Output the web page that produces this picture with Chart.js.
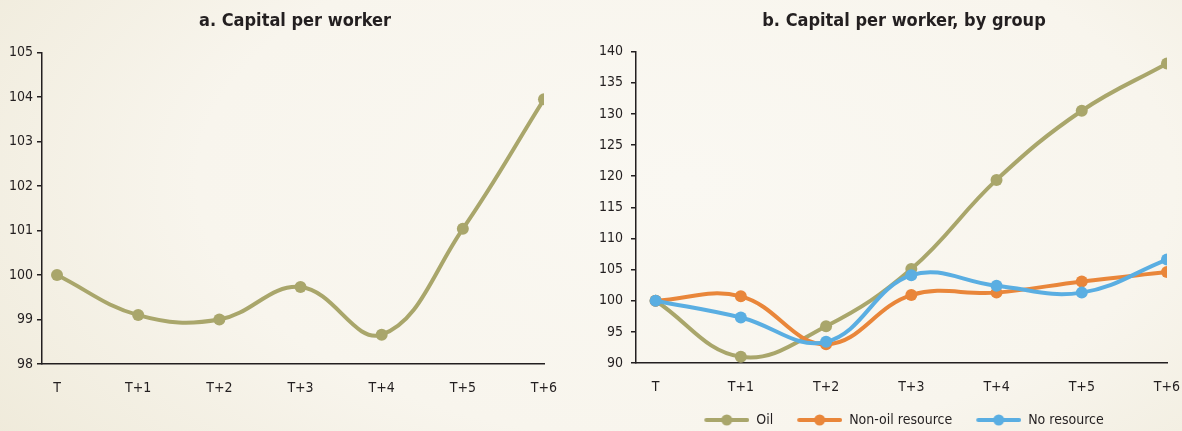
<!DOCTYPE html>
<html><head><meta charset="utf-8">
<script src="https://cdn.jsdelivr.net/npm/chart.js@4.4.1/dist/chart.umd.min.js"></script>
<style>
html,body{margin:0;padding:0;width:1182px;height:431px;overflow:hidden;}
body{background: radial-gradient(ellipse 75% 110% at 58% 42%, #faf8f2 0%, #f8f5ed 55%, #eee9d8 100%);}
#wa{position:absolute;left:0;top:0;width:590px;height:431px;}
#wb{position:absolute;left:590px;top:0;width:592px;height:431px;}
</style></head><body>
<div id="wa"><canvas id="ca"></canvas></div>
<div id="wb"><canvas id="cb"></canvas></div>
<script>
// ---- data ----
const periods = ['T', 'T+1', 'T+2', 'T+3', 'T+4', 'T+5', 'T+6'];
const capitalPerWorker = [100.0, 99.1, 99.0, 99.73, 98.66, 101.04, 103.95];
const oil = [100.0, 91.0, 95.9, 105.1, 119.4, 130.5, 138.1];
const nonOilResource = [100.0, 100.7, 93.0, 100.9, 101.3, 103.1, 104.6];
const noResource = [100.0, 97.3, 93.4, 104.1, 102.4, 101.3, 106.6];
const yTicksA = [98, 99, 100, 101, 102, 103, 104, 105];
const yTicksB = [90, 95, 100, 105, 110, 115, 120, 125, 130, 135, 140];
const titleA = 'a. Capital per worker';
const titleB = 'b. Capital per worker, by group';
const seriesNames = ['Oil', 'Non-oil resource', 'No resource'];

// ---- styles ----
const FONT = '"DejaVu Sans Condensed", "Roboto", sans-serif';
const INK = '#231f20';
const C_OIL = '#a9a66b', C_NON = '#e9863a', C_NO = '#5aaee2';
Chart.defaults.font.family = FONT;
Chart.defaults.color = INK;
Chart.defaults.animation = false;

// moves title / legend boxes after layout (so the plot area is unaffected)
const boxShift = {
  id: 'boxShift',
  afterLayout(chart, args, opts) {
    for (const key of ['titleBlock', 'legend']) {
      const b = chart[key], o = opts[key];
      if (!b || !o) continue;
      if (o.left != null) b.left = o.left;
      if (o.right != null) b.right = o.right;
      b.width = b.right - b.left;
      if (o.top != null) { const h = b.height; b.top = o.top; b.bottom = o.top + h; }
    }
  }
};

const pts = arr => arr.map((v, i) => ({x: i, y: v}));
function ds(label, arr, color, order) {
  return {label, data: pts(arr), borderColor: color, backgroundColor: color,
    borderWidth: 4, pointRadius: 6, pointHoverRadius: 6, pointBorderWidth: 0,
    tension: 0.4, fill: false, order: order};
}
function legendIcon(color) {
  const c = document.createElement('canvas');
  c.width = 60; c.height = 12;
  const g = c.getContext('2d');
  g.strokeStyle = color; g.lineWidth = 4; g.lineCap = 'round';
  g.beginPath(); g.moveTo(17, 6); g.lineTo(58, 6); g.stroke();
  g.fillStyle = color; g.beginPath(); g.arc(37.5, 6, 5.5, 0, Math.PI * 2); g.fill();
  return c;
}
function xScale(min, height) {
  return {type: 'linear', min: min, max: 6,
    afterBuildTicks: s => { s.ticks = periods.map((_, i) => ({value: i})); },
    afterFit: s => { s.height = height; s.paddingLeft = 0; s.paddingRight = 0; },
    grid: {display: false}, border: {display: true, color: INK, width: 1.5},
    ticks: {callback: v => periods[v], autoSkip: false, maxRotation: 0, padding: 8,
      font: {size: 14}, color: INK}};
}
function yScale(ticks, width, pad) {
  return {type: 'linear', min: ticks[0], max: ticks[ticks.length - 1],
    afterBuildTicks: s => { s.ticks = ticks.map(v => ({value: v})); },
    afterFit: s => { s.width = width; },
    grid: {drawOnChartArea: false, drawTicks: true, tickLength: 5, color: INK, lineWidth: 1.5},
    border: {display: true, color: INK, width: 1.5},
    ticks: {padding: pad, font: {size: 14}, color: INK}};
}

new Chart(document.getElementById('ca'), {
  type: 'line',
  data: {datasets: [ds('Capital per worker', capitalPerWorker, C_OIL, 0)]},
  plugins: [boxShift],
  options: {responsive: true, maintainAspectRatio: false,
    layout: {padding: {left: 0, right: 46, top: 0, bottom: 0}},
    scales: {x: xScale(-0.185, 67), y: yScale(yTicksA, 42, 4)},
    plugins: {legend: {display: false}, tooltip: {enabled: false},
      boxShift: {titleBlock: {left: 0, right: 590}},
      title: {display: true, text: titleA, color: INK, font: {size: 18, weight: 'bold'},
        padding: {top: 11, bottom: 20}}}}
});

const icons = [legendIcon(C_OIL), legendIcon(C_NON), legendIcon(C_NO)];
new Chart(document.getElementById('cb'), {
  type: 'line',
  data: {datasets: [ds(seriesNames[0], oil, C_OIL, 2), ds(seriesNames[1], nonOilResource, C_NON, 1), ds(seriesNames[2], noResource, C_NO, 0)]},
  plugins: [boxShift],
  options: {responsive: true, maintainAspectRatio: false,
    layout: {padding: {left: 0, right: 15, top: 0, bottom: 0}},
    scales: {x: xScale(-0.23, 35), y: yScale(yTicksB, 46, 8)},
    plugins: {tooltip: {enabled: false},
      boxShift: {titleBlock: {left: 36, right: 592}, legend: {left: 21, right: 592, top: 404}},
      title: {display: true, text: titleB, color: INK, font: {size: 18, weight: 'bold'},
        padding: {top: 11, bottom: 19}},
      legend: {position: 'bottom',
        labels: {usePointStyle: true, pointStyleWidth: 60, boxHeight: 12, padding: 9,
          font: {size: 14}, color: INK,
          generateLabels: ch => ch.data.datasets.map((d, i) => ({
            text: d.label, pointStyle: icons[i], fillStyle: d.borderColor,
            strokeStyle: d.borderColor, lineWidth: 0, hidden: false, datasetIndex: i, fontColor: INK}))}}}}
});
</script>
</body></html>
